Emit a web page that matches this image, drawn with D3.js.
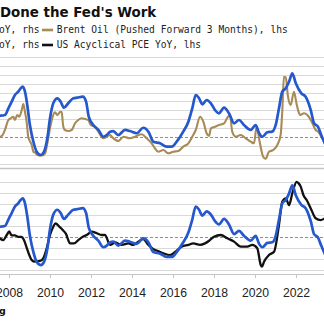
<!DOCTYPE html>
<html>
<head>
<meta charset="utf-8">
<script src="https://cdn.jsdelivr.net/npm/d3@7"></script>
<style>
  html, body { margin: 0; padding: 0; background: #fff; overflow: hidden; }
  svg { display: block; }
</style>
</head>
<body>
<script>
// ---- data -------------------------------------------------------------
// decimal-year dates and YoY values

// headline YoY series, drawn on the right-hand axis of both panels
const yoyDates = [2007.56,2007.80,2007.97,2008.13,2008.29,2008.45,2008.57,2008.67,2008.78,2008.89,
  2009.02,2009.19,2009.35,2009.55,2009.71,2009.87,2010.00,2010.16,2010.36,2010.52,2010.68,2010.89,
  2011.14,2011.33,2011.60,2011.76,2011.89,2012.11,2012.36,2012.60,2012.77,2012.93,2013.09,2013.33,
  2013.66,2013.90,2014.23,2014.55,2014.80,2015.04,2015.37,2015.69,2015.94,2016.18,2016.50,2016.75,
  2016.94,2017.11,2017.27,2017.43,2017.64,2017.85,2018.05,2018.24,2018.49,2018.73,2018.98,2019.22,
  2019.46,2019.79,2020.03,2020.20,2020.36,2020.60,2020.84,2021.01,2021.17,2021.33,2021.50,2021.66,
  2021.82,2021.99,2022.26,2022.47,2022.72,2022.88,2023.07,2023.23,2023.40];
const yoyValues = [2.39,2.47,3.22,3.97,4.72,5.09,5.47,5.65,5.09,3.60,
  1.35,-0.53,-1.65,-2.02,-1.65,-0.15,2.10,3.79,4.35,3.97,3.29,3.79,
  4.35,4.42,4.53,3.97,2.28,1.35,0.79,0.03,0.22,0.60,0.67,0.22,
  0.79,0.67,0.42,1.04,0.60,-0.53,-0.71,-1.09,-1.09,-0.53,0.60,1.72,
  3.22,4.72,4.35,3.67,4.16,3.79,3.03,2.66,3.29,2.66,1.54,1.91,
  1.35,0.79,1.35,0.42,0.03,0.53,0.60,1.35,3.22,5.09,5.47,6.21,
  7.16,6.03,4.91,4.53,3.03,1.54,1.16,0.22,-0.71];

// Brent Oil YoY %, pushed forward 3 months (top panel, left axis)
const brentDates = [2007.56,2007.69,2007.80,2007.97,2008.08,2008.21,2008.29,2008.40,2008.50,2008.62,
  2008.70,2008.78,2008.86,2008.94,2008.99,2009.11,2009.19,2009.27,2009.38,2009.60,2009.76,2009.87,
  2010.00,2010.13,2010.24,2010.36,2010.49,2010.57,2010.62,2010.65,2010.73,2010.89,2011.06,2011.22,
  2011.38,2011.55,2011.71,2011.87,2011.99,2012.20,2012.36,2012.60,2012.77,2012.93,2013.01,2013.33,
  2013.58,2013.90,2014.15,2014.47,2014.72,2014.96,2015.12,2015.28,2015.53,2015.77,2016.01,2016.26,
  2016.50,2016.75,2016.94,2017.11,2017.32,2017.48,2017.64,2017.76,2017.85,2018.05,2018.24,2018.49,
  2018.68,2018.78,2018.89,2019.06,2019.30,2019.55,2019.79,2019.95,2020.08,2020.24,2020.40,2020.52,
  2020.68,2020.89,2021.09,2021.25,2021.33,2021.41,2021.50,2021.61,2021.74,2021.90,2022.03,2022.10,
  2022.20,2022.39,2022.55,2022.80,2022.96,2023.07,2023.22,2023.40];
const brentValues = [0,5.6,19.7,47.8,52.5,57.0,47.8,61.8,57.0,75.8,
  92.7,70.2,43.0,0,-8.4,-22.5,-41.3,-43.5,-50.6,-52.0,-45.8,-17.7,
  24.4,57.0,69.4,61.8,70.2,71.1,43.0,28.9,19.7,16.9,19.7,38.5,
  47.8,52.5,50.6,47.8,33.7,28.9,14.9,-3.7,0.8,5.6,0.8,-11.2,
  0.8,-3.7,0.8,7.6,-3.7,-17.7,-31.7,-41.3,-36.5,-45.8,-41.3,-39.3,
  -27.2,-17.7,0.8,19.7,57.0,43.0,10.4,2.8,24.4,28.9,33.7,38.5,
  57.0,61.8,14.9,0.8,5.6,-3.7,-13.2,-17.7,28.9,-17.7,-55.3,-61.2,
  -41.3,-36.5,-22.5,5.6,71.1,169.4,167.1,113.2,89.9,127.2,92.7,75.8,
  61.8,66.6,61.8,38.5,19.7,15.4,2.8,-16];

// US Acyclical PCE YoY % (bottom panel, left axis)
const pceDates = [2007.56,2007.72,2007.89,2008.01,2008.13,2008.29,2008.45,2008.62,2008.73,2008.86,
  2008.99,2009.11,2009.27,2009.51,2009.67,2009.84,2010.00,2010.16,2010.27,2010.45,2010.62,2010.78,
  2010.98,2011.17,2011.38,2011.60,2011.79,2012.03,2012.28,2012.52,2012.68,2012.93,2013.17,2013.50,
  2013.82,2014.06,2014.31,2014.55,2014.80,2015.04,2015.27,2015.53,2015.85,2016.10,2016.42,2016.75,
  2016.99,2017.32,2017.56,2017.80,2018.00,2018.33,2018.65,2018.98,2019.30,2019.62,2019.87,2020.11,
  2020.28,2020.34,2020.44,2020.68,2020.93,2021.17,2021.33,2021.50,2021.66,2021.82,2022.03,2022.12,
  2022.23,2022.36,2022.52,2022.72,2022.96,2023.20,2023.40];
const pceValues = [1.93,1.86,2.09,2.25,2.07,2.07,2.01,2.00,1.86,1.52,
  1.18,0.95,0.88,0.91,1.03,1.49,2.09,2.47,2.62,2.47,2.32,2.14,
  1.71,1.71,1.86,2.01,2.09,2.24,2.17,2.09,2.09,1.64,1.75,1.64,
  1.71,1.64,1.79,1.91,1.64,1.45,1.36,1.26,1.18,1.32,1.56,1.64,
  1.71,1.64,1.71,1.86,2.01,2.09,1.94,1.79,1.56,1.56,1.64,1.49,
  0.73,0.65,0.88,1.18,1.33,2.55,3.60,3.76,3.45,3.99,4.51,4.45,
  4.29,3.91,3.68,3.30,2.85,2.77,2.85];

// axis ticks
const yearTicks = [2008,2010,2012,2014,2016,2018,2020,2022,2024];
const brentTicks = [-75,-50,-25,0,25,50,75,100,125,150,175,200,225];
const pceTicks = [0.5,1.0,1.5,2.0,2.5,3.0,3.5,4.0,4.5];

// legend rows
const legendRows = [
  { lead: "YoY, rhs", color: "#a88a55", label: "Brent Oil (Pushed Forward 3 Months), lhs" },
  { lead: "YoY, rhs", color: "#111111", label: "US Acyclical PCE YoY, lhs" }
];

// ---- drawing ----------------------------------------------------------
const W = 324, H = 324;
const svg = d3.select("body").append("svg").attr("width", W).attr("height", H);

const BLUE = "#2458cc", TAN = "#a88a55", BLACK = "#111111";

const x = d3.scaleLinear().domain([2008, 2022]).range([9, 296]);

// top panel scales
const yBrent = d3.scaleLinear().domain([-75, 225]).range([163.7, 56.9]);
const yTopR = d3.scaleLinear().domain([-3, 9]).range([163.7, 56.9]);
// bottom panel scales
const yPce = d3.scaleLinear().domain([0.5, 4.5]).range([270, 182]);
const yBotR = d3.scaleLinear().domain([0, 7]).range([247.5, 186.74]);

// title
svg.append("text")
  .attr("x", 0).attr("y", 16.6)
  .attr("font-family", "DejaVu Sans").attr("font-weight", "bold")
  .attr("font-size", 13.4).attr("fill", "#111")
  .text("Done the Fed's Work");

// legend
const lg = svg.append("g").attr("font-family", "DejaVu Sans Mono").attr("font-size", 9.6).attr("fill", "#222");
legendRows.forEach((r, i) => {
  const cy = 30 + i * 15;
  lg.append("text").attr("x", 39.5).attr("y", cy + 3.4).attr("text-anchor", "end").text(r.lead);
  lg.append("line").attr("x1", 42).attr("x2", 53).attr("y1", cy).attr("y2", cy)
    .attr("stroke", r.color).attr("stroke-width", 2.6);
  lg.append("text").attr("x", 56.7).attr("y", cy + 3.4).text(r.label);
});

// gridlines
function grid(scale, ticks, zeroVal) {
  const g = svg.append("g");
  g.selectAll("line").data(ticks).join("line")
    .attr("x1", 0).attr("x2", W)
    .attr("y1", d => Math.round(scale(d)) + 0.5).attr("y2", d => Math.round(scale(d)) + 0.5)
    .attr("stroke", d => d === zeroVal ? "#8f8f8f" : "#d9d9d9")
    .attr("stroke-width", 1)
    .attr("stroke-dasharray", d => d === zeroVal ? "3,2" : null);
}
grid(yBrent, brentTicks, 0);
grid(yPce, pceTicks, 2.0);

// panel separator
svg.append("line").attr("x1", 0).attr("x2", W).attr("y1", 168.5).attr("y2", 168.5)
  .attr("stroke", "#c4c4c4").attr("stroke-width", 1.5);

// lines
function series(dates, values, yScale, color, width) {
  const pts = dates.map((d, i) => [d, values[i]]);
  svg.append("path").datum(pts)
    .attr("fill", "none").attr("stroke", color).attr("stroke-width", width)
    .attr("stroke-linejoin", "round").attr("stroke-linecap", "round")
    .attr("d", d3.line().x(p => x(p[0])).y(p => yScale(p[1])).curve(d3.curveMonotoneX));
}
series(brentDates, brentValues, yBrent, TAN, 2.1);
series(yoyDates, yoyValues, yTopR, BLUE, 2.7);
series(pceDates, pceValues, yPce, BLACK, 2.3);
series(yoyDates, yoyValues, yBotR, BLUE, 2.7);

// x axis
const axis = svg.append("g").attr("transform", "translate(0,274)")
  .call(d3.axisBottom(x).tickValues(yearTicks).tickFormat(d3.format("d")).tickSize(4).tickPadding(10.5));
axis.select(".domain").attr("stroke", "#c4c4c4").attr("d", `M0,0.5H${W}`);
axis.selectAll(".tick line").attr("stroke", "#c4c4c4");
axis.selectAll(".tick text").attr("font-family", "Liberation Sans").attr("font-size", 12.2).attr("fill", "#222");

// source
svg.append("text").attr("x", 5.8).attr("y", 314).attr("text-anchor", "end")
  .attr("font-family", "DejaVu Sans").attr("font-weight", "bold").attr("font-size", 9.5).attr("fill", "#111")
  .text("Bloomberg");
</script>
</body>
</html>
